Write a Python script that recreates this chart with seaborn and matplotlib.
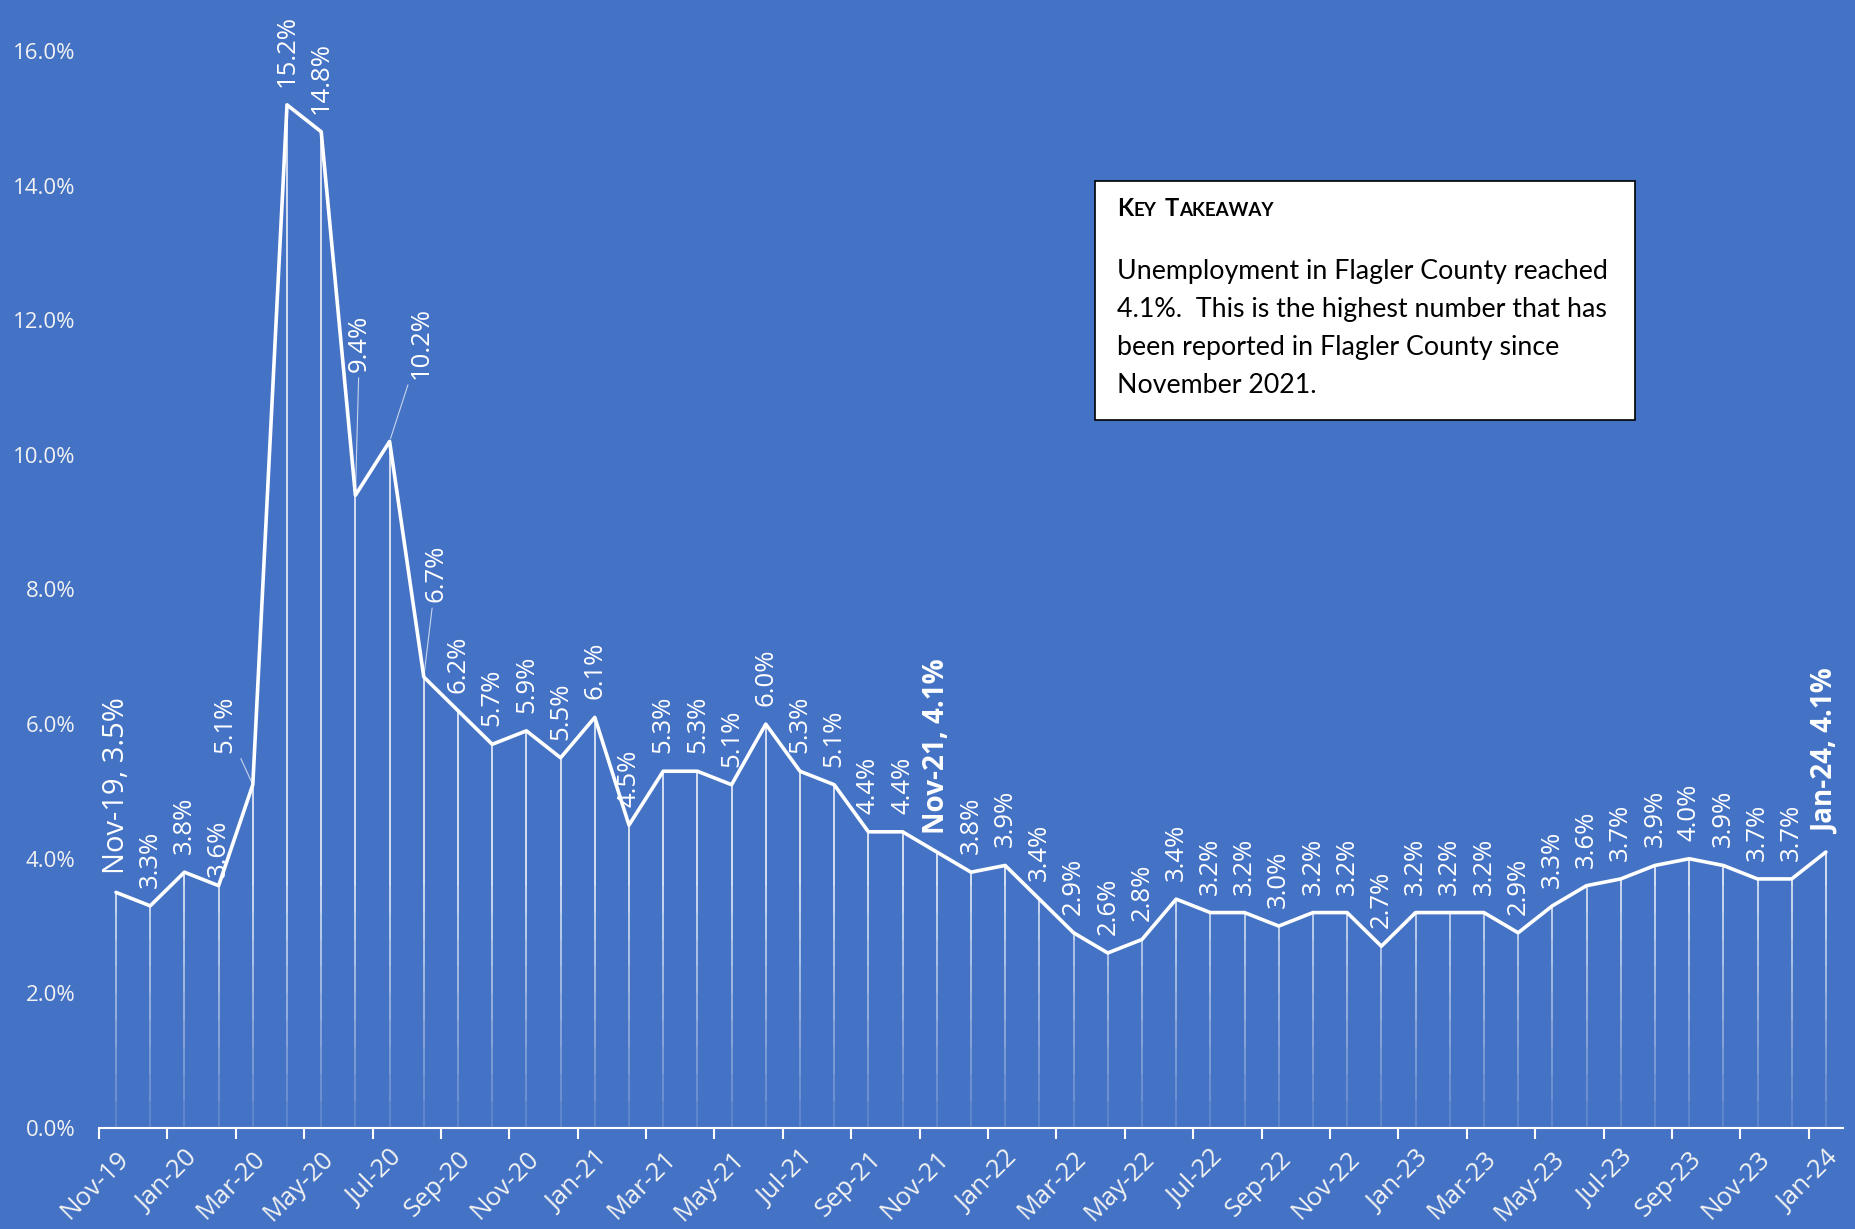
import numpy as np
import pandas as pd
import matplotlib.pyplot as plt
import seaborn as sns
from matplotlib.patches import Rectangle
from matplotlib.offsetbox import TextArea, HPacker, AnchoredOffsetbox

# monthly unemployment rate, Flagler County (Nov-19 .. Jan-24)
months = pd.date_range('2019-11-01', periods=51, freq='MS').strftime('%b-%y').tolist()
rates = [3.5, 3.3, 3.8, 3.6, 5.1, 15.2, 14.8, 9.4, 10.2, 6.7,
         6.2, 5.7, 5.9, 5.5, 6.1, 4.5, 5.3, 5.3, 5.1, 6.0,
         5.3, 5.1, 4.4, 4.4, 4.1, 3.8, 3.9, 3.4, 2.9, 2.6,
         2.8, 3.4, 3.2, 3.2, 3.0, 3.2, 3.2, 2.7, 3.2, 3.2,
         3.2, 2.9, 3.3, 3.6, 3.7, 3.9, 4.0, 3.9, 3.7, 3.7, 4.1]
highlight = {0: 'normal', 24: 'bold', 50: 'bold'}
yticks = [0, 2, 4, 6, 8, 10, 12, 14, 16]

box_title = [("K", 17), ("EY", 13.5), ("T", 17), ("AKEAWAY", 13.5)]
box_lines = ["Unemployment in Flagler County reached",
             "4.1%.  This is the highest number that has",
             "been reported in Flagler County since",
             "November 2021."]

BLUE = '#4472C4'
sns.set_style('white', {'axes.facecolor': BLUE, 'figure.facecolor': BLUE})
plt.rcParams['font.family'] = ['Open Sans', 'DejaVu Sans']

df = pd.DataFrame({'x': np.arange(len(rates)), 'rate': rates, 'month': months})

fig = plt.figure(figsize=(18.56, 12.29), dpi=100)
ax = fig.add_axes([0.0533, 0.0822, 0.9397, 0.8763])

# drop lines, fading toward the axis
x = df['x'].values
r = df['rate'].values
levels = np.linspace(0, 4, 11)
for lo, hi in zip(levels[:-1], levels[1:]):
    m = r > lo
    ax.vlines(x[m], lo, np.minimum(r[m], hi), color='white', lw=1.2,
              alpha=0.1 + 0.8 * hi / 4, zorder=2)
m = r > 4
ax.vlines(x[m], 4, r[m], color='white', lw=1.2, alpha=0.9, zorder=2)

sns.lineplot(data=df, x='x', y='rate', ax=ax, color='white', lw=2.6, zorder=3)

# data labels
offsets = {3: (0, 6), 4: (-20, 23), 7: (3, 89), 8: (23, 45), 9: (9, 54)}
for i, row in df.iterrows():
    dx, dy = offsets.get(i, (0, 13))
    if i in highlight:
        txt = f"{row['month']}, {row['rate']:.1f}%"
        kw = dict(fontsize=21 if highlight[i] == 'normal' else 20, fontweight=highlight[i])
    else:
        txt = f"{row['rate']:.1f}%"
        kw = dict(fontsize=18.5)
    arrow = None
    if i in (4, 7, 8, 9):
        arrow = dict(arrowstyle='-', color='white', lw=0.8, alpha=0.7,
                     shrinkA=2, shrinkB=2)
    ax.annotate(txt, (row['x'], row['rate']), xytext=(dx, dy),
                textcoords='offset points', rotation=90, ha='center',
                va='bottom', color='white', annotation_clip=False,
                arrowprops=arrow, **kw)

ax.set_xlim(-0.5, len(rates) - 0.5)
ax.set_ylim(0, 16)
ax.set_yticks(yticks)
ax.set_yticklabels([f"{v:.1f}%" for v in yticks], fontsize=16, color='#F2F2F2')
ax.tick_params(axis='y', left=False, length=0, pad=17)

ax.set_xticks(np.arange(-0.5, len(rates) - 1, 2))
ax.set_xticklabels([])
ax.set_xticks(np.arange(0, len(rates), 2), minor=True)
ax.set_xticklabels(months[::2], minor=True, rotation=45, ha='right',
                   rotation_mode='anchor', fontsize=18.5, color='#F2F2F2')
ax.tick_params(axis='x', which='major', bottom=True, length=8, width=1.5,
               color='white', direction='out')
ax.tick_params(axis='x', which='minor', bottom=True, length=0, pad=13)
ax.set_xlabel('')
ax.set_ylabel('')

for s in ['top', 'right', 'left']:
    ax.spines[s].set_visible(False)
ax.spines['bottom'].set_color('white')
ax.spines['bottom'].set_linewidth(1.5)

# key takeaway box
bx0, bx1, by0, by1 = 1095 / 1856, 1635 / 1856, 1 - 420 / 1229, 1 - 181 / 1229
fig.add_artist(Rectangle((bx0, by0), bx1 - bx0, by1 - by0, transform=fig.transFigure,
                         facecolor='white', edgecolor='black', lw=1.2, zorder=5))
parts = [TextArea(s, textprops=dict(fontsize=sz, fontweight='bold', color='black',
                                    family=['Lato', 'DejaVu Sans']))
         for s, sz in box_title]
title = HPacker(children=[HPacker(children=parts[:2], align='baseline', pad=0, sep=0),
                          HPacker(children=parts[2:], align='baseline', pad=0, sep=0)],
                align='baseline', pad=0, sep=6)
ab = AnchoredOffsetbox(loc='upper left', child=title, pad=0, borderpad=0, frameon=False,
                       bbox_to_anchor=(1117 / 1856, 1 - 197 / 1229),
                       bbox_transform=fig.transFigure)
ab.set_zorder(6)
fig.add_artist(ab)
for k, line in enumerate(box_lines):
    fig.text(1117 / 1856, 1 - (279 + 38 * k) / 1229, line, fontsize=19.3,
             family=['Lato', 'DejaVu Sans'], color='black', ha='left',
             va='baseline', zorder=6)

fig.savefig('out.png', dpi=100, facecolor=BLUE)
